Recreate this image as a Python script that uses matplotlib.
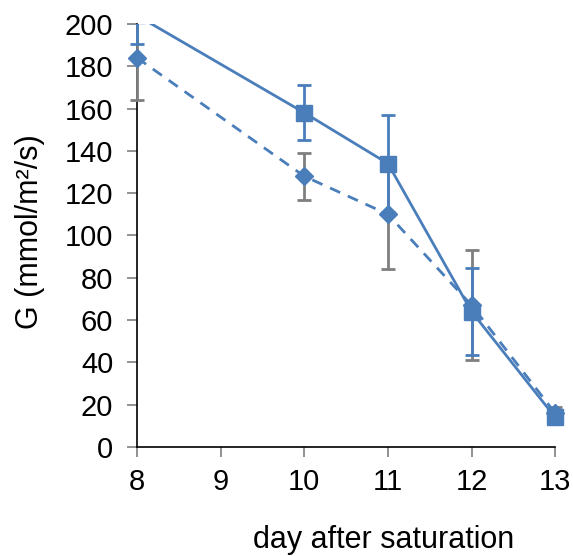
import numpy as np
import matplotlib.pyplot as plt
from matplotlib.patches import Rectangle

plt.rcParams['font.family'] = ['Liberation Sans', 'DejaVu Sans']

# День після насичення
days = [8, 10, 11, 12, 13]

# Серія з квадратами (суцільна лінія)
g_square = [204, 158, 134, 64, 14]
err_square = [13.5, 13, 23, 20.5, 3]

# Серія з ромбами (пунктир)
g_diamond = [184, 128, 110, 67, 16]
err_diamond = [20, 11, 26, 26, 3]

blue = '#4A7EBB'
grey = '#7F7F7F'

fig = plt.figure(figsize=(5.73, 5.56), dpi=100)
ax = fig.add_axes([0.239, 0.196, 0.73, 0.761])

# обрізаємо лише зверху (як в Excel), праворуч і знизу маркери видно
clip = Rectangle((-0.1, -0.1), 1.2, 1.1, transform=ax.transAxes,
                 facecolor='none', edgecolor='none')

cont_d = ax.errorbar(days, g_diamond, yerr=err_diamond, color=blue, ecolor=grey,
                     marker='D', markersize=9, linewidth=2, linestyle=(0, (4, 3)),
                     elinewidth=2, capsize=5, capthick=2, zorder=3)
cont_s = ax.errorbar(days, g_square, yerr=err_square, color=blue, ecolor=blue,
                     marker='s', markersize=11, linewidth=2, linestyle='-',
                     elinewidth=2, capsize=5, capthick=2, zorder=4)
for cont in (cont_d, cont_s):
    for art in cont.get_children():
        art.set_clip_path(clip)

ax.set_xlim(8, 13)
ax.set_ylim(0, 200)
ax.set_xticks(range(8, 14))
ax.set_yticks(range(0, 201, 20))

for s in ['top', 'right']:
    ax.spines[s].set_visible(False)
for s in ['left', 'bottom']:
    ax.spines[s].set_color('black')
    ax.spines[s].set_linewidth(1.2)
ax.tick_params(axis='both', labelsize=21, length=7, width=1.2, color=grey)
ax.tick_params(axis='y', pad=10)
ax.tick_params(axis='x', pad=8)

ax.set_ylabel('G (mmol/m²/s)', fontsize=22, va='center')
ax.yaxis.set_label_coords(-0.256, 0.508)
ax.set_xlabel('day after saturation', fontsize=22, va='center')
ax.xaxis.set_label_coords(0.589, -0.22)

fig.savefig('out.png', dpi=100)
